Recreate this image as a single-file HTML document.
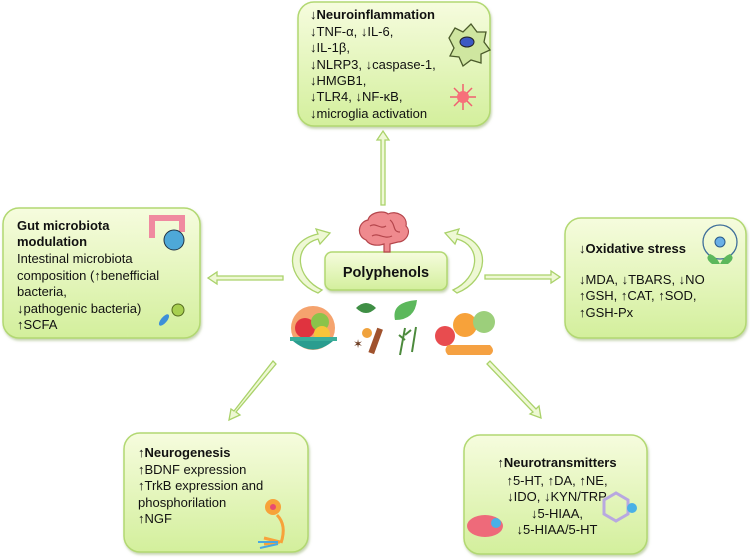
<!DOCTYPE html>
<html><head><meta charset="utf-8"><style>
html,body{margin:0;padding:0;background:#fff;}
svg{display:block;font-family:"Liberation Sans","DejaVu Sans",sans-serif;}
text{font-size:13px;fill:#111;}
.b{font-weight:bold;}
</style></head><body>
<svg width="750" height="559" viewBox="0 0 750 559" xmlns="http://www.w3.org/2000/svg">
<defs>
<linearGradient id="g" x1="0" y1="0" x2="0" y2="1">
<stop offset="0" stop-color="#f6fcde"/><stop offset="1" stop-color="#d3ef9c"/>
</linearGradient>
<filter id="sh" x="-5%" y="-5%" width="110%" height="115%"><feDropShadow dx="1" dy="2" stdDeviation="1.2" flood-color="#8aa860" flood-opacity="0.5"/></filter>
</defs>
<g stroke="#b2d872" stroke-width="1.5" fill="url(#g)" filter="url(#sh)">
<rect x="298" y="2" width="192" height="124" rx="16"/>
<rect x="3" y="208" width="197" height="130" rx="16"/>
<rect x="565" y="218" width="181" height="120" rx="16"/>
<rect x="124" y="433" width="184" height="119" rx="16"/>
<rect x="464" y="435" width="183" height="119" rx="16"/>
<rect x="325" y="252" width="122" height="38" rx="7"/>
</g>
<!-- arrows -->
<g fill="#eef8d4" stroke="#aad26a" stroke-width="1.3">
<polygon points="381,205 381,140 377,140 383,131 389,140 385,140 385,205"/>
<polygon points="283,276 217,276 217,272 208,278 217,284 217,280 283,280"/>
<polygon points="485,275 551,275 551,271 560,277 551,283 551,279 485,279"/>
<polygon points="273,361 276,364 236,412 240,415 229,420 231,409 234,411"/>
<polygon points="487,364 490,361 536,409 539,406 541,418 530,414 533,412"/>
<path d="M318,293 C286,280 282,242 318,234 L316,229 L330,233 L320,244 L318,239 C292,246 296,278 322,290 Z"/>
<path d="M457,293 C489,280 493,242 457,234 L459,229 L445,233 L455,244 L457,239 C483,246 479,278 453,290 Z"/>
</g>
<!-- brain -->
<g fill="#ef8a8e" stroke="#b5464c" stroke-width="1.2">
<path d="M366,240 C356,236 358,222 368,220 C370,212 384,210 388,214 C396,210 408,216 406,226 C412,232 406,242 398,242 L390,244 L390,252 L384,252 L384,244 C378,246 370,246 366,240 Z"/>
<path d="M370,226 C376,222 380,230 386,226 M390,220 C396,224 392,232 400,232 M372,236 C378,232 384,240 392,236" fill="none"/>
</g>
<text x="386" y="277" text-anchor="middle" class="b" style="font-size:14.5px">Polyphenols</text>
<!-- food icons -->
<circle cx="313" cy="328" r="22" fill="#f5a36e"/>
<circle cx="305" cy="328" r="10" fill="#e0333f"/><circle cx="320" cy="322" r="9" fill="#8bc34a"/><circle cx="322" cy="334" r="8" fill="#f7c53a"/>
<rect x="290" y="337" width="47" height="4" fill="#3aae9a"/><path d="M293,341 Q313,358 333,341 Z" fill="#2a9d8f"/>
<path d="M356,308 q10,-10 20,0 q-10,10 -20,0z" fill="#3f8f45"/><path d="M395,320 q-4,-18 22,-20 q-2,20 -22,20z" fill="#5cb85c"/>
<circle cx="367" cy="333" r="5" fill="#f0a23c"/><rect x="373" y="328" width="6" height="26" fill="#a0522d" transform="rotate(20 376 340)"/>
<text x="353" y="348" style="fill:#6b3a1f;font-size:12px">✶</text>
<path d="M400,355 L405,328 M405,340 l-6,-5 M405,335 l6,-5 M412,352 l4,-25" stroke="#4c8a3c" stroke-width="2" fill="none"/>
<circle cx="445" cy="336" r="10" fill="#e84c4f"/><circle cx="465" cy="325" r="12" fill="#f7a23a"/><circle cx="484" cy="322" r="11" fill="#9ccf7b"/>
<path d="M448,345 l42,0 q6,6 0,10 l-42,0 q-5,-5 0,-10z" fill="#f5a142"/>
<!-- top icons -->
<path d="M449,38 l6,-10 l8,4 l8,-8 l6,8 l9,0 l-2,10 l6,8 l-9,4 l0,9 l-10,-3 l-8,6 l-4,-9 l-9,-1 l4,-8z" fill="#cfe6a0" stroke="#4a5a2a" stroke-width="1.3"/>
<ellipse cx="467" cy="42" rx="7" ry="5" fill="#3c59c4" stroke="#222" stroke-width="1"/>
<g stroke="#f06070" stroke-width="1.5"><line x1="450" y1="97" x2="476" y2="97"/><line x1="463" y1="84" x2="463" y2="110"/><line x1="454" y1="88" x2="472" y2="106"/><line x1="472" y1="88" x2="454" y2="106"/></g>
<circle cx="463" cy="97" r="6" fill="#f7707a"/>
<!-- gut -->
<path d="M152,238 L152,218 L182,218 L182,232" fill="none" stroke="#f08aa0" stroke-width="6"/>
<circle cx="174" cy="240" r="10" fill="#4ea8d8" stroke="#234" stroke-width="1"/>
<circle cx="178" cy="310" r="6" fill="#a8d050" stroke="#556b1f"/><ellipse cx="164" cy="320" rx="3" ry="7" fill="#3d8fd8" transform="rotate(40 164 320)"/>
<!-- oxidative icon -->
<circle cx="720" cy="242" r="17" fill="none" stroke="#3e6e9a" stroke-width="1.3"/><circle cx="720" cy="242" r="5" fill="#6ab0e6" stroke="#2a5a8a"/>
<path d="M712,264 q-8,-6 -2,-10 q6,2 10,10 q4,-8 10,-10 q6,4 -2,10z" fill="#5cb85c"/>
<!-- neuron -->
<circle cx="273" cy="507" r="8" fill="#f7a23a"/><circle cx="273" cy="507" r="3" fill="#e84c70"/>
<path d="M277,515 q10,10 4,28 M264,544 l16,-2 M264,538 l16,4" fill="none" stroke="#f7a23a" stroke-width="3"/>
<path d="M258,542 l20,0 M260,548 l18,-4" stroke="#4aa8e0" stroke-width="2"/>
<!-- neurotransmitter icons -->
<ellipse cx="485" cy="526" rx="18" ry="11" fill="#ee6a7a"/><circle cx="496" cy="523" r="5" fill="#4ab0e6"/>
<polygon points="604,500 616,493 628,500 628,514 616,521 604,514" fill="none" stroke="#b8a8e0" stroke-width="3"/><circle cx="632" cy="508" r="5" fill="#4ab0e6"/>
<!-- texts -->
<g>
<text x="310" y="19"><tspan>↓</tspan><tspan class="b">Neuroinflammation</tspan></text>
<text x="310" y="36">↓TNF-α, ↓IL-6,</text>
<text x="310" y="52">↓IL-1β,</text>
<text x="310" y="69">↓NLRP3, ↓caspase-1,</text>
<text x="310" y="85">↓HMGB1,</text>
<text x="310" y="101">↓TLR4, ↓NF-κB,</text>
<text x="310" y="118">↓microglia activation</text>

<text x="17" y="230" class="b">Gut microbiota</text>
<text x="17" y="246" class="b">modulation</text>
<text x="17" y="263">Intestinal microbiota</text>
<text x="17" y="280">composition (↑benefficial</text>
<text x="17" y="296">bacteria,</text>
<text x="17" y="313">↓pathogenic bacteria)</text>
<text x="17" y="329">↑SCFA</text>

<text x="579" y="253"><tspan>↓</tspan><tspan class="b">Oxidative stress</tspan></text>
<text x="579" y="284">↓MDA, ↓TBARS, ↓NO</text>
<text x="579" y="300">↑GSH, ↑CAT, ↑SOD,</text>
<text x="579" y="317">↑GSH-Px</text>

<text x="138" y="457"><tspan>↑</tspan><tspan class="b">Neurogenesis</tspan></text>
<text x="138" y="474">↑BDNF expression</text>
<text x="138" y="490">↑TrkB expression and</text>
<text x="138" y="507">phosphorilation</text>
<text x="138" y="523">↑NGF</text>

<g text-anchor="middle">
<text x="557" y="467"><tspan>↑</tspan><tspan class="b">Neurotransmitters</tspan></text>
<text x="557" y="485">↑5-HT, ↑DA, ↑NE,</text>
<text x="557" y="501">↓IDO, ↓KYN/TRP</text>
<text x="557" y="518">↓5-HIAA,</text>
<text x="557" y="534">↓5-HIAA/5-HT</text>
</g>
</g>
</svg>
</body></html>
